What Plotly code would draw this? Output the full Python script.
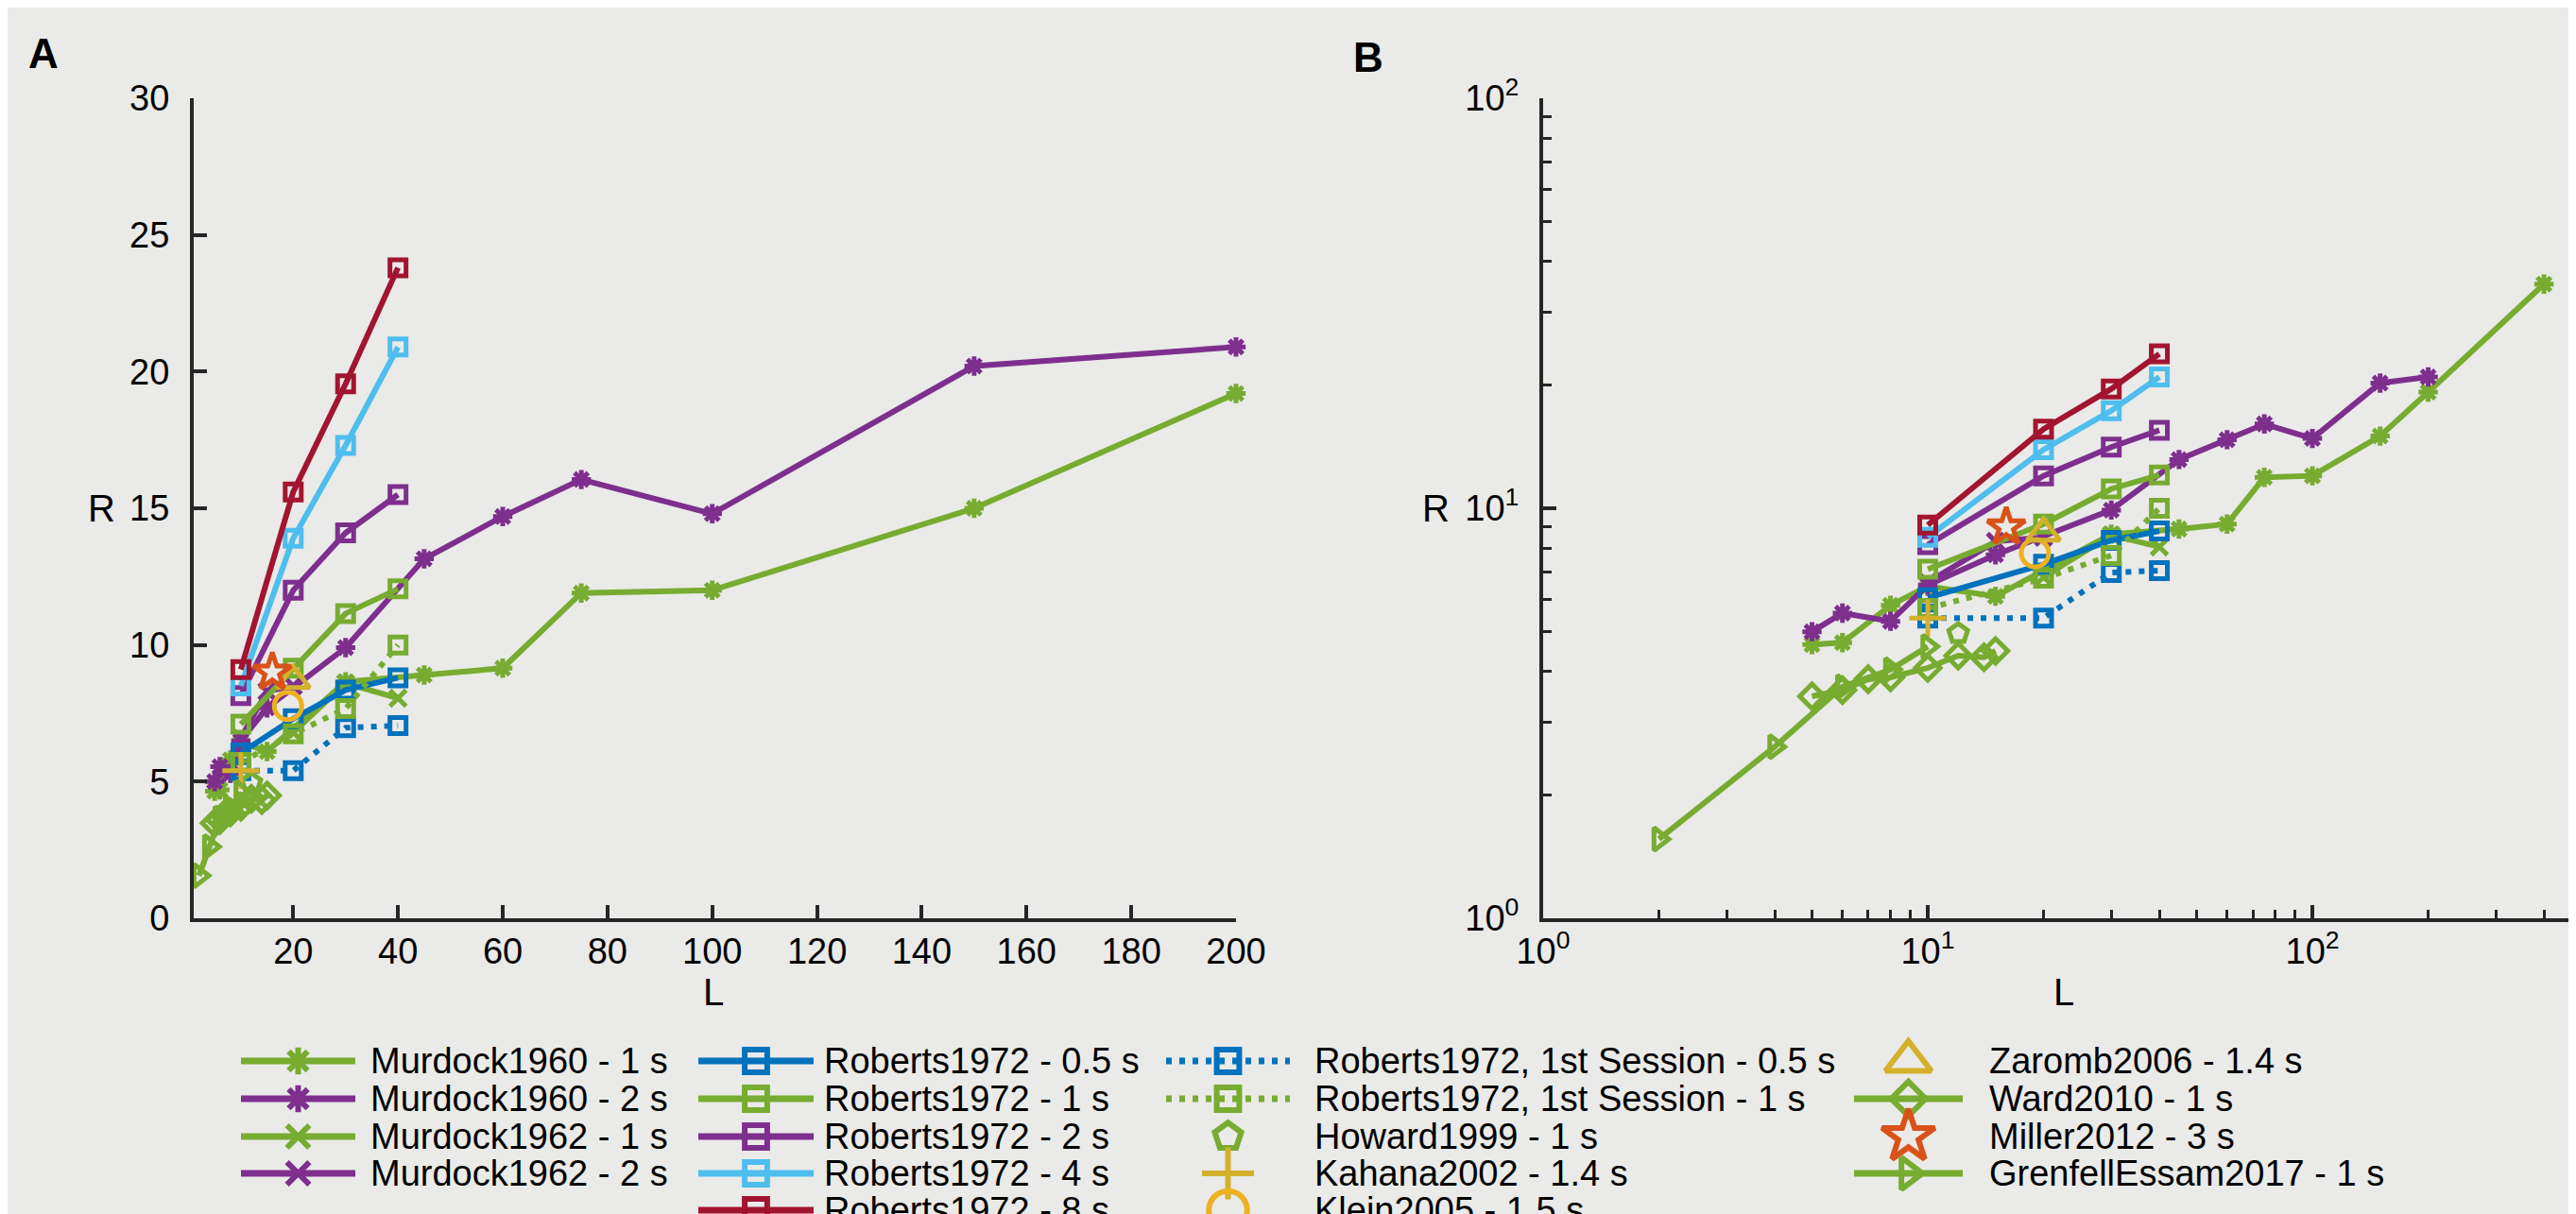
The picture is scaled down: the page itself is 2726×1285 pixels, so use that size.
import plotly.graph_objects as go

# ---------------- data (list length L, recall R) ----------------
m60_1_L = [5, 6, 8, 10, 15, 30, 45, 60, 75, 100, 150, 200, 400]
m60_1_R = [4.65, 4.7, 5.8, 6.45, 6.1, 8.65, 8.9, 9.15, 11.9, 12.0, 15.0, 19.2, 35.2]
m60_2_L = [5, 6, 8, 10, 15, 30, 45, 60, 75, 100, 150, 200]
m60_2_R = [5.0, 5.55, 5.3, 6.5, 7.7, 9.9, 13.15, 14.7, 16.05, 14.8, 20.2, 20.9]
m62_1_L = [20, 30, 40]
m62_1_R = [6.8, 8.6, 8.05]
m62_2_L = [10, 15, 20]
m62_2_R = [6.6, 8.3, 8.5]
rob_L = [10, 20, 30, 40]
rob_05_R = [6.05, 7.3, 8.35, 8.8]
rob_1_R = [7.1, 9.15, 11.15, 12.05]
rob_2_R = [8.15, 12.0, 14.1, 15.5]
rob_4_R = [8.5, 13.9, 17.3, 20.9]
rob_8_R = [9.1, 15.6, 19.55, 23.8]
rob1st_05_R = [5.4, 5.4, 6.97, 7.05]
rob1st_1_R = [5.7, 6.75, 7.67, 10.0]
howard_L = [12]
howard_R = [4.95]
kahana_L = [10]
kahana_R = [5.4]
klein_L = [19]
klein_R = [7.77]
zaromb_L = [20]
zaromb_R = [8.7]
ward_L = [5, 6, 7, 8, 10, 12, 14, 15]
ward_R = [3.48, 3.6, 3.83, 3.87, 4.08, 4.37, 4.33, 4.49]
miller_L = [16]
miller_R = [9.0]
grenfell_L = [2, 4, 6, 8, 10]
grenfell_R = [1.56, 2.62, 3.67, 4.04, 4.6]

x_ticks_A = [20, 40, 60, 80, 100, 120, 140, 160, 180, 200]
y_ticks_A = [0, 5, 10, 15, 20, 25, 30]
log_ticks = [1, 10, 100]
log_ticktext = ["10<sup>0</sup>", "10<sup>1</sup>", "10<sup>2</sup>"]
minor_x_B = [2, 3, 4, 5, 6, 7, 8, 9, 20, 30, 40, 50, 60, 70, 80, 90, 200, 300, 400, 500]
minor_y_B = [2, 3, 4, 5, 6, 7, 8, 9, 20, 30, 40, 50, 60, 70, 80, 90]

# ---------------- styles ----------------
GREEN = '#77AC30'
PURPLE = '#7E2F8E'
BLUE = '#0072BD'
LBLUE = '#4DBEEE'
RED = '#A2142F'
GOLD = '#EDB120'
YEL = '#D3B12B'
ORANGE = '#D95319'
BG = '#EAEAE8'
AX = '#262626'
FONT = 'Liberation Sans, Arial, Helvetica, sans-serif'

series = [
    dict(name='Murdock1960 - 1 s', L=m60_1_L, R=m60_1_R, c=GREEN, sym='asterisk-open', sz=17, dash='solid', line=True),
    dict(name='Murdock1960 - 2 s', L=m60_2_L, R=m60_2_R, c=PURPLE, sym='asterisk-open', sz=17, dash='solid', line=True),
    dict(name='Murdock1962 - 1 s', L=m62_1_L, R=m62_1_R, c=GREEN, sym='x-thin-open', sz=17, dash='solid', line=True),
    dict(name='Murdock1962 - 2 s', L=m62_2_L, R=m62_2_R, c=PURPLE, sym='x-thin-open', sz=17, dash='solid', line=True),
    dict(name='Roberts1972 - 0.5 s', L=rob_L, R=rob_05_R, c=BLUE, sym='square-open', sz=17, dash='solid', line=True),
    dict(name='Roberts1972 - 1 s', L=rob_L, R=rob_1_R, c=GREEN, sym='square-open', sz=17, dash='solid', line=True),
    dict(name='Roberts1972 - 2 s', L=rob_L, R=rob_2_R, c=PURPLE, sym='square-open', sz=17, dash='solid', line=True),
    dict(name='Roberts1972 - 4 s', L=rob_L, R=rob_4_R, c=LBLUE, sym='square-open', sz=17, dash='solid', line=True),
    dict(name='Roberts1972 - 8 s', L=rob_L, R=rob_8_R, c=RED, sym='square-open', sz=17, dash='solid', line=True),
    dict(name='Roberts1972, 1st Session - 0.5 s', L=rob_L, R=rob1st_05_R, c=BLUE, sym='square-open', sz=17, dash='6px,8px', line=True),
    dict(name='Roberts1972, 1st Session - 1 s', L=rob_L, R=rob1st_1_R, c=GREEN, sym='square-open', sz=17, dash='6px,8px', line=True),
    dict(name='Howard1999 - 1 s', L=howard_L, R=howard_R, c=GREEN, sym='pentagon-open', sz=21, dash='solid', line=False),
    dict(name='Kahana2002 - 1.4 s', L=kahana_L, R=kahana_R, c=YEL, sym='cross-thin-open', sz=28, dash='solid', line=False),
    dict(name='Klein2005 - 1.5 s', L=klein_L, R=klein_R, c=GOLD, sym='circle-open', sz=29, dash='solid', line=False),
    dict(name='Zaromb2006 - 1.4 s', L=zaromb_L, R=zaromb_R, c=YEL, sym='triangle-up-open', sz=30, dash='solid', line=False),
    dict(name='Ward2010 - 1 s', L=ward_L, R=ward_R, c=GREEN, sym='diamond-open', sz=20, dash='solid', line=True),
    dict(name='Miller2012 - 3 s', L=miller_L, R=miller_R, c=ORANGE, sym='star-open', sz=30, dash='solid', line=False),
    dict(name='GrenfellEssam2017 - 1 s', L=grenfell_L, R=grenfell_R, c=GREEN, sym='triangle-right-open', sz=21, dash='solid', line=True),
]

W, H = 2726, 1285
LEG_TOP = 1085
LW = 6
MLW = 5
fig = go.Figure()

XMAX_A = 200
for s in series:
    LA = [l for l in s['L'] if l <= XMAX_A]
    RA = [r for l, r in zip(s['L'], s['R']) if l <= XMAX_A]
    for (xa, ya, xs, ys) in (('x', 'y', LA, RA), ('x2', 'y2', s['L'], s['R'])):
        fig.add_trace(go.Scatter(
            x=xs, y=ys, xaxis=xa, yaxis=ya,
            mode='lines+markers' if s['line'] else 'markers',
            line=dict(color=s['c'], width=LW, dash=s['dash']),
            marker=dict(symbol=s['sym'], size=s['sz'], color=s['c'],
                        line=dict(color=s['c'], width=MLW)),
            cliponaxis=False, showlegend=False, name=s['name']))

# ---------------- manual legend (column-major like the original) ----------------
ROWS = [1115, 1155, 1195, 1234, 1273]
cols = [
    dict(x0=247, x1=368, tx=382, idx=[0, 1, 2, 3]),
    dict(x0=731, x1=853, tx=862, idx=[4, 5, 6, 7, 8]),
    dict(x0=1226, x1=1357, tx=1381, idx=[9, 10, 11, 12, 13]),
    dict(x0=1954, x1=2069, tx=2095, idx=[14, 15, 16, 17]),
]
annotations = []
for col in cols:
    for ry, i in zip(ROWS, col['idx']):
        s = series[i]
        xm = (col['x0'] + col['x1']) / 2
        if s['line']:
            fig.add_trace(go.Scatter(
                x=[col['x0'], col['x1']], y=[ry, ry], xaxis='x3', yaxis='y3', mode='lines',
                line=dict(color=s['c'], width=LW + 1, dash=s['dash']), showlegend=False,
                hoverinfo='skip', cliponaxis=False))
        fig.add_trace(go.Scatter(
            x=[xm], y=[ry], xaxis='x3', yaxis='y3', mode='markers',
            marker=dict(symbol=s['sym'], size=s['sz'] * 1.4, color=s['c'],
                        line=dict(color=s['c'], width=MLW + 1)),
            showlegend=False, hoverinfo='skip', cliponaxis=False))
        annotations.append(dict(
            text=s['name'], x=col['tx'] / W, y=1 - ry / H, xref='paper', yref='paper',
            xanchor='left', yanchor='middle', showarrow=False,
            font=dict(family=FONT, size=38, color='black')))

# axis titles and panel labels
for txt, px, py, bold in (('L', 747, 1042, False), ('R', 99, 530, False),
                          ('L', 2176, 1042, False), ('R', 1511, 530, False),
                          ('A', 38, 49, True), ('B', 1440, 53, True)):
    annotations.append(dict(
        text=f'<b>{txt}</b>' if bold else txt, x=px / W, y=1 - py / H,
        xref='paper', yref='paper', xanchor='center', yanchor='middle', showarrow=False,
        font=dict(family=FONT, size=44 if bold else 40, color='black')))

Y0, Y1 = 1 - 964 / H, 1 - 96 / H
axis_common = dict(showline=True, linewidth=4, linecolor=AX, ticks='inside', ticklen=14,
                   tickwidth=4, tickcolor=AX, showgrid=False, zeroline=False,
                   tickfont=dict(family=FONT, size=38, color='black'),
                   automargin=False)

fig.update_layout(
    width=W, height=H,
    paper_bgcolor=BG, plot_bgcolor='rgba(0,0,0,0)',
    margin=dict(l=0, r=0, t=0, b=0, autoexpand=False),
    showlegend=False,
    xaxis=dict(domain=[197 / W, 1300 / W], range=[1, XMAX_A], tickvals=x_ticks_A,
               anchor='y', ticklabelstandoff=-2, **axis_common),
    yaxis=dict(domain=[Y0, Y1], range=[0, 30], tickvals=y_ticks_A, anchor='x',
               ticklabelstandoff=14, **axis_common),
    xaxis2=dict(domain=[1625 / W, 1.0], type='log', range=[0, 2.705], tickvals=log_ticks,
                ticktext=log_ticktext, anchor='y2', ticklabelstandoff=-2,
                minor=dict(tickvals=minor_x_B, ticks='inside', ticklen=9, tickwidth=3,
                           tickcolor=AX, showgrid=False),
                **axis_common),
    yaxis2=dict(domain=[Y0, Y1], type='log', range=[0, 2], tickvals=log_ticks,
                ticktext=log_ticktext, anchor='x2', ticklabelstandoff=14,
                minor=dict(tickvals=minor_y_B, ticks='inside', ticklen=9, tickwidth=3,
                           tickcolor=AX, showgrid=False),
                **axis_common),
    xaxis3=dict(domain=[0, 1], range=[0, W], visible=False, anchor='y3', automargin=False),
    yaxis3=dict(domain=[0, 1 - LEG_TOP / H], range=[H, LEG_TOP], visible=False, anchor='x3',
                automargin=False),
    annotations=annotations,
)

fig.write_html('out.html')
